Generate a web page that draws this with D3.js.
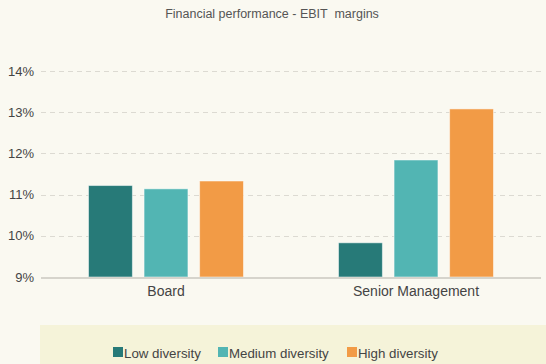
<!DOCTYPE html>
<html>
<head>
<meta charset="utf-8">
<script src="https://cdn.jsdelivr.net/npm/d3@7"></script>
<style>
  body { margin: 0; background: #faf9f1; }
  svg { display: block; font-family: "Liberation Sans", Arial, sans-serif; }
</style>
</head>
<body>
<svg id="chart" width="546" height="364"></svg>
<script>
var categories = ["Board", "Senior Management"];
var seriesNames = ["Low diversity", "Medium diversity", "High diversity"];
var seriesColors = ["#277a78", "#52b5b3", "#f29b46"];
var lowValues = [11.22, 9.83];
var mediumValues = [11.14, 11.84];
var highValues = [11.33, 13.08];
var yTicks = [9, 10, 11, 12, 13, 14];

var svg = d3.select("#chart");
var width = +svg.attr("width");
var height = +svg.attr("height");

var plotLeft = 41, plotRight = 541, plotTop = 71, plotBottom = 277;

var allSeries = [lowValues, mediumValues, highValues];
var data = categories.map(function(c, i) {
    return { cat: c, vals: allSeries.map(function(s, j) { return { key: seriesNames[j], v: s[i] }; }) };
});

var groupW = 155;
var x0 = d3.scaleBand().domain(categories).range([plotLeft, plotRight]);
var x1 = d3.scaleBand().domain(seriesNames).range([0, groupW]).paddingInner(0.21);
var y = d3.scaleLinear().domain([9, 14]).range([plotBottom, plotTop]);
var color = d3.scaleOrdinal().domain(seriesNames).range(seriesColors);

// title
svg.append("text")
    .attr("x", 272).attr("y", 18)
    .attr("text-anchor", "middle")
    .style("font-size", "12.5px")
    .style("fill", "#555")
    .style("white-space", "pre")
    .text("Financial performance - EBIT  margins");

// grid
svg.append("g")
    .selectAll("line")
    .data(yTicks.slice(1))
    .enter().append("line")
    .attr("x1", plotLeft).attr("x2", plotRight)
    .attr("y1", d => Math.round(y(d)) + 0.5).attr("y2", d => Math.round(y(d)) + 0.5)
    .style("stroke", "#dcdad2")
    .style("stroke-dasharray", "5,4");

// y axis labels
var yAxis = d3.axisLeft(y).tickValues(yTicks).tickFormat(d => d + "%").tickSize(0).tickPadding(7);
var gy = svg.append("g").attr("transform", "translate(" + plotLeft + ",0)").call(yAxis);
gy.select(".domain").remove();
gy.selectAll("text").style("font-size", "13px").style("fill", "#444").style("font-family", "inherit");

// bars
var groups = svg.append("g").selectAll("g")
    .data(data).enter().append("g")
    .attr("transform", d => "translate(" + (x0(d.cat) + (x0.bandwidth() - groupW) / 2) + ",0)");

groups.selectAll("rect")
    .data(d => d.vals).enter().append("rect")
    .attr("x", d => x1(d.key))
    .attr("y", d => y(d.v))
    .attr("width", x1.bandwidth())
    .attr("height", d => y(9) - y(d.v))
    .attr("fill", d => color(d.key))
    .style("stroke", "#ffffff")
    .style("stroke-opacity", 0.5)
    .style("stroke-width", 1);

// x axis
svg.append("line")
    .attr("x1", plotLeft).attr("x2", plotRight)
    .attr("y1", plotBottom + 1).attr("y2", plotBottom + 1)
    .style("stroke", "#d6d4cc").style("stroke-width", 2);

var xAxis = d3.axisBottom(x0).tickSize(0).tickPadding(9);
var gx = svg.append("g").attr("transform", "translate(0," + plotBottom + ")").call(xAxis);
gx.select(".domain").remove();
gx.selectAll("text").style("font-size", "14px").style("fill", "#444").style("font-family", "inherit");

// legend
svg.append("rect")
    .attr("x", 40).attr("y", 325).attr("width", width - 40).attr("height", height - 325)
    .attr("fill", "#f5f3d9");

var legendX = [113, 218, 347];
var legend = svg.append("g").selectAll("g")
    .data(seriesNames).enter().append("g")
    .attr("transform", (d, i) => "translate(" + legendX[i] + ",347)");
legend.append("rect")
    .attr("width", 10).attr("height", 10)
    .attr("fill", d => color(d));
legend.append("text")
    .attr("x", 11).attr("y", 10.5)
    .style("font-size", "13.3px")
    .style("fill", "#444")
    .text(d => d);
</script>
</body>
</html>
